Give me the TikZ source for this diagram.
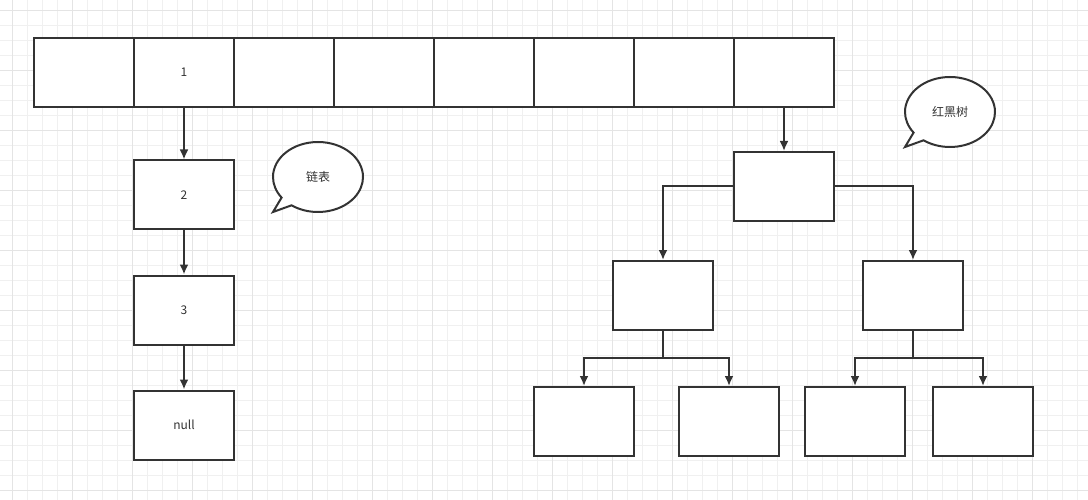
\documentclass[tikz,border=0pt]{standalone}
\usepackage{fontspec}
\setmainfont{Noto Sans CJK SC}
\usepackage{tikz}
\usetikzlibrary{arrows.meta,shapes.callouts}

\definecolor{ink}{HTML}{333333}
\definecolor{gridminor}{HTML}{F0F0F0}
\definecolor{gridmajor}{HTML}{E4E4E4}

\tikzset{
  cell/.style={draw=ink,line width=2pt,fill=white,minimum width=100pt,minimum height=69pt,
    inner sep=0pt,text=ink,font=\fontsize{12}{14}\selectfont},
  arr/.style={draw=ink,line width=2pt,-{Latex[length=10pt,width=9pt]}},
  bubble/.style={ellipse callout,draw=ink,line width=2pt,fill=white,minimum width=90pt,
    minimum height=70pt,inner sep=0pt,text=ink,font=\fontsize{12}{14}\selectfont,
    callout pointer arc=18}
}

\begin{document}
\begin{tikzpicture}[x=1pt,y=-1pt]
          \useasboundingbox (0,0) rectangle (1088,500);
          % background grid
          \foreach \x in {12,27,...,1088} \draw[gridminor,line width=0.7pt] (\x,0) -- (\x,500);
          \foreach \y in {10,25,...,500} \draw[gridminor,line width=0.7pt] (0,\y) -- (1088,\y);
          \foreach \x in {12,72,...,1088} \draw[gridmajor,line width=0.7pt] (\x,0) -- (\x,500);
          \foreach \y in {10,70,...,500} \draw[gridmajor,line width=0.7pt] (0,\y) -- (1088,\y);
          % table
          \foreach \i in {0,...,7}
            \node[cell] (c\i) at (84+100*\i,72.5) {};
          \node at (c1) [text=ink,font=\fontsize{12}{14}\selectfont] {1};
          % linked list
          \node[cell] (l2) at (184,195) {2};
          \node[cell] (l3) at (184,310) {3};
          \node[cell] (l4) at (184,425) {null};
          \draw[arr] (c1.south) -- (l2.north);
          \draw[arr] (l2.south) -- (l3.north);
          \draw[arr] (l3.south) -- (l4.north);
          \node[bubble,callout absolute pointer={(273,212)}] (b1) at (318,177) {链表};
          % tree
          \node[cell] (t0) at (784,186.5) {};
          \node[cell] (tl) at (663,295.5) {};
          \node[cell] (tr) at (913,295.5) {};
          \node[cell] (tll) at (584,421.5) {};
          \node[cell] (tlr) at (729,421.5) {};
          \node[cell] (trl) at (855,421.5) {};
          \node[cell] (trr) at (983,421.5) {};
          \coordinate (tlj) at (663,358);
          \coordinate (trj) at (913,358);
          \draw[arr] (c7.south) -- (t0.north);
          \draw[arr] (t0.west) -| (tl.north);
          \draw[arr] (t0.east) -| (tr.north);
          \draw[arr] (tl.south) -- (tlj) -| (tll.north);
          \draw[arr] (tlj) -| (tlr.north);
          \draw[arr] (tr.south) -- (trj) -| (trl.north);
          \draw[arr] (trj) -| (trr.north);
          \node[bubble,callout absolute pointer={(905,147)}] (b2) at (950,112) {红黑树};
        \end{tikzpicture}
\end{document}
